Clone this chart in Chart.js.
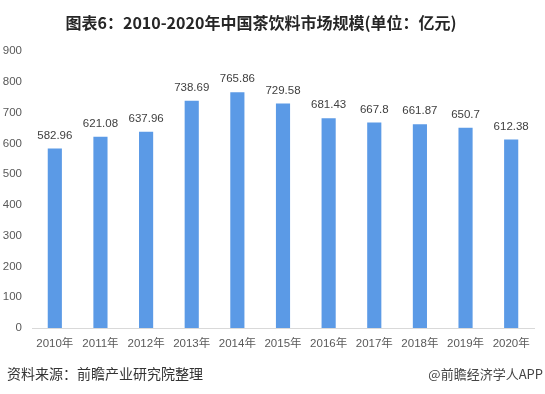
<!DOCTYPE html>
<html>
<head>
<meta charset="utf-8">
<script src="https://cdn.jsdelivr.net/npm/chart.js@4"></script>
<style>
  html, body { margin: 0; padding: 0; background: #fff; }
  #wrap { position: relative; width: 545px; height: 394px; overflow: hidden; font-family: "Noto Sans CJK SC", "Liberation Sans", sans-serif; }
  #title { position: absolute; left: 0; top: 11px; width: 522px; text-align: center; font-size: 16px; font-weight: bold; color: #262626; line-height: 22px; }
  #src { position: absolute; left: 7px; top: 364px; font-size: 14px; color: #333; line-height: 18px; }
  #app { position: absolute; right: 2px; top: 365px; font-size: 13px; color: #444; line-height: 18px; }
  canvas { position: absolute; left: 0; top: 0; }
</style>
</head>
<body>
<div id="wrap">
  <canvas id="c" width="545" height="394"></canvas>
  <div id="title">图表6：2010-2020年中国茶饮料市场规模(单位：亿元)</div>
  <div id="src">资料来源：前瞻产业研究院整理</div>
  <div id="app">@前瞻经济学人APP</div>
</div>
<script>
// Values.
const years = ['2010年', '2011年', '2012年', '2013年', '2014年', '2015年', '2016年', '2017年', '2018年', '2019年', '2020年'];
const marketSize = [582.96, 621.08, 637.96, 738.69, 765.86, 729.58, 681.43, 667.8, 661.87, 650.7, 612.38];
const yTicks = [0, 100, 200, 300, 400, 500, 600, 700, 800, 900];

const BAR_BLUE = '#5b9ae6';
const TEXT_GREY = '#595959';

// Value labels above each bar.
const valueLabels = {
    id: 'valueLabels',
    afterDatasetsDraw(chart) {
        const ctx = chart.ctx;
        const meta = chart.getDatasetMeta(0);
        ctx.save();
        ctx.font = '11.5px "Liberation Sans", Arial, sans-serif';
        ctx.fillStyle = '#404040';
        ctx.textAlign = 'center';
        ctx.textBaseline = 'middle';
        meta.data.forEach((bar, i) => {
            ctx.fillText(String(marketSize[i]), bar.x, bar.y - 13);
        });
        ctx.restore();
    }
};

new Chart(document.getElementById('c').getContext('2d'), {
    type: 'bar',
    data: {
        labels: years,
        datasets: [{
            data: marketSize,
            backgroundColor: BAR_BLUE,
            categoryPercentage: 1,
            barPercentage: 0.31,
        }]
    },
    options: {
        responsive: false,
        animation: false,
        layout: { padding: { top: 51, right: 11, left: 0, bottom: 0 } },
        plugins: { legend: { display: false }, tooltip: { enabled: false } },
        scales: {
            x: {
                grid: { display: false, drawTicks: false },
                border: { color: '#d9d9d9', width: 1 },
                ticks: {
                    color: TEXT_GREY,
                    font: { size: 11.5, family: '"Liberation Sans", "Noto Sans CJK SC", sans-serif' },
                    padding: 9,
                    maxRotation: 0,
                    autoSkip: false,
                },
                afterFit(scale) { scale.height = 66; }
            },
            y: {
                min: 0, max: 900,
                afterBuildTicks(scale) { scale.ticks = yTicks.map(v => ({ value: v })); },
                grid: { display: false, drawTicks: false },
                border: { display: false },
                ticks: {
                    color: TEXT_GREY,
                    font: { size: 11.5, family: '"Liberation Sans", Arial, sans-serif' },
                    padding: 10,
                },
                afterFit(scale) { scale.width = 32; }
            }
        }
    },
    plugins: [valueLabels]
});
</script>
</body>
</html>
